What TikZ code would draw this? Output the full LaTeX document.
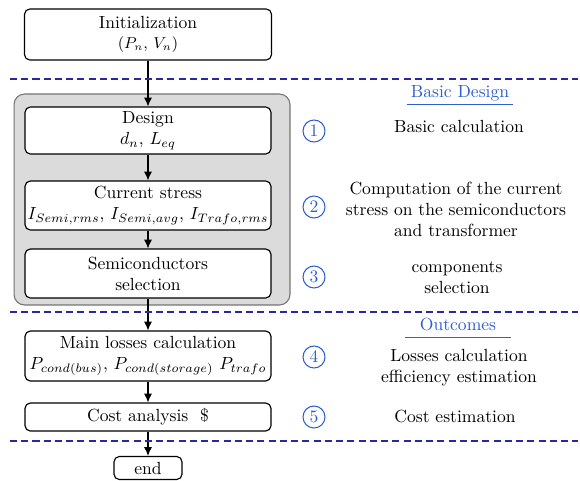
\documentclass[tikz,border=0pt]{standalone}
\usepackage{tikz}
\usetikzlibrary{arrows,arrows.meta,positioning}
\definecolor{notesblue}{RGB}{45,95,205}
\definecolor{sepblue}{RGB}{40,40,165}

\tikzset{
  stepbox/.style={draw=black,line width=0.65pt,rounded corners=3pt,fill=white,align=center,inner sep=1pt},
  groupbox/.style={draw=black!55,line width=0.6pt,rounded corners=6pt,fill=black!14},
  stepnum/.style={circle,draw=notesblue,text=notesblue,line width=0.6pt,minimum size=0.44cm,inner sep=0pt},
  sepline/.style={sepblue,line width=0.6pt,dash pattern=on 4pt off 2.4pt},
  note/.style={align=center,inner sep=0pt},
  heading/.style={text=notesblue,inner sep=0pt,text depth=3.8pt,minimum width=2.12cm},
  flow/.style={-{Latex[length=5pt,width=4.6pt]},line width=0.65pt}
}

\begin{document}
\begin{tikzpicture}[x=0.02cm,y=-0.02cm]
      \useasboundingbox (0,0) rectangle (580,480);
      \node[groupbox,minimum width=5.52cm,minimum height=4.22cm] (group) at (152,199.5) {};
      \node[stepbox,minimum width=4.94cm,minimum height=1.02cm] (init) at (148,34.5)
      {Initialization\\[-1pt] {\small $(P_n$, $V_n)$}};
      \node[stepbox,minimum width=4.92cm,minimum height=0.94cm] (design) at (148,130.5)
      {Design\\ $d_n$, $L_{eq}$};
      \node[stepbox,minimum width=4.92cm,minimum height=0.98cm] (stress) at (148,205.5)
      {Current stress\\ $I_{Semi,rms}$, $I_{Semi,avg}$, $I_{Trafo,rms}$};
      \node[stepbox,minimum width=4.92cm,minimum height=0.98cm] (semi) at (148,273.5)
      {Semiconductors\\ selection};
      \node[stepbox,minimum width=4.92cm,minimum height=1.0cm] (losses) at (148,356)
      {Main losses calculation\\ $P_{cond(bus)}$, $P_{cond(storage)}$ $P_{trafo}$};
      \node[stepbox,minimum width=4.92cm,minimum height=0.56cm] (cost) at (148,417)
      {Cost analysis \ \$};
      \node[stepbox,minimum width=1.36cm,minimum height=0.46cm] (end) at (148,468) {end};
      \foreach \a/\b in {init/design,design/stress,stress/semi,semi/losses,losses/cost,cost/end}
      \draw[flow] (\a) -- (\b);
      \foreach \y in {79,312,441}
      \draw[sepline] (10,\y) -- (578,\y);
      \foreach \n/\y in {1/131,2/207,3/277,4/357,5/417}
      \node[stepnum] (c\n) at (314,\y) {\n};
      \node[heading] (basic) at (460,95) {Basic Design};
      \draw[notesblue,line width=0.6pt] (basic.south west) -- (basic.south east);
      \node[heading] (outcomes) at (458,328) {Outcomes};
      \draw[notesblue,line width=0.6pt] (outcomes.south west) -- (outcomes.south east);
      \node[note] (n1) at (459,126) {Basic calculation};
      \node[note] (n2) at (456,209) {Computation of the current\\ stress on the semiconductors\\ and transformer};
      \node[note] (n3) at (457,278) {components\\ selection};
      \node[note] (n4) at (459,368) {Losses calculation\\ efficiency estimation};
      \node[note] (n5) at (455,416) {Cost estimation};
    \end{tikzpicture}
\end{document}
